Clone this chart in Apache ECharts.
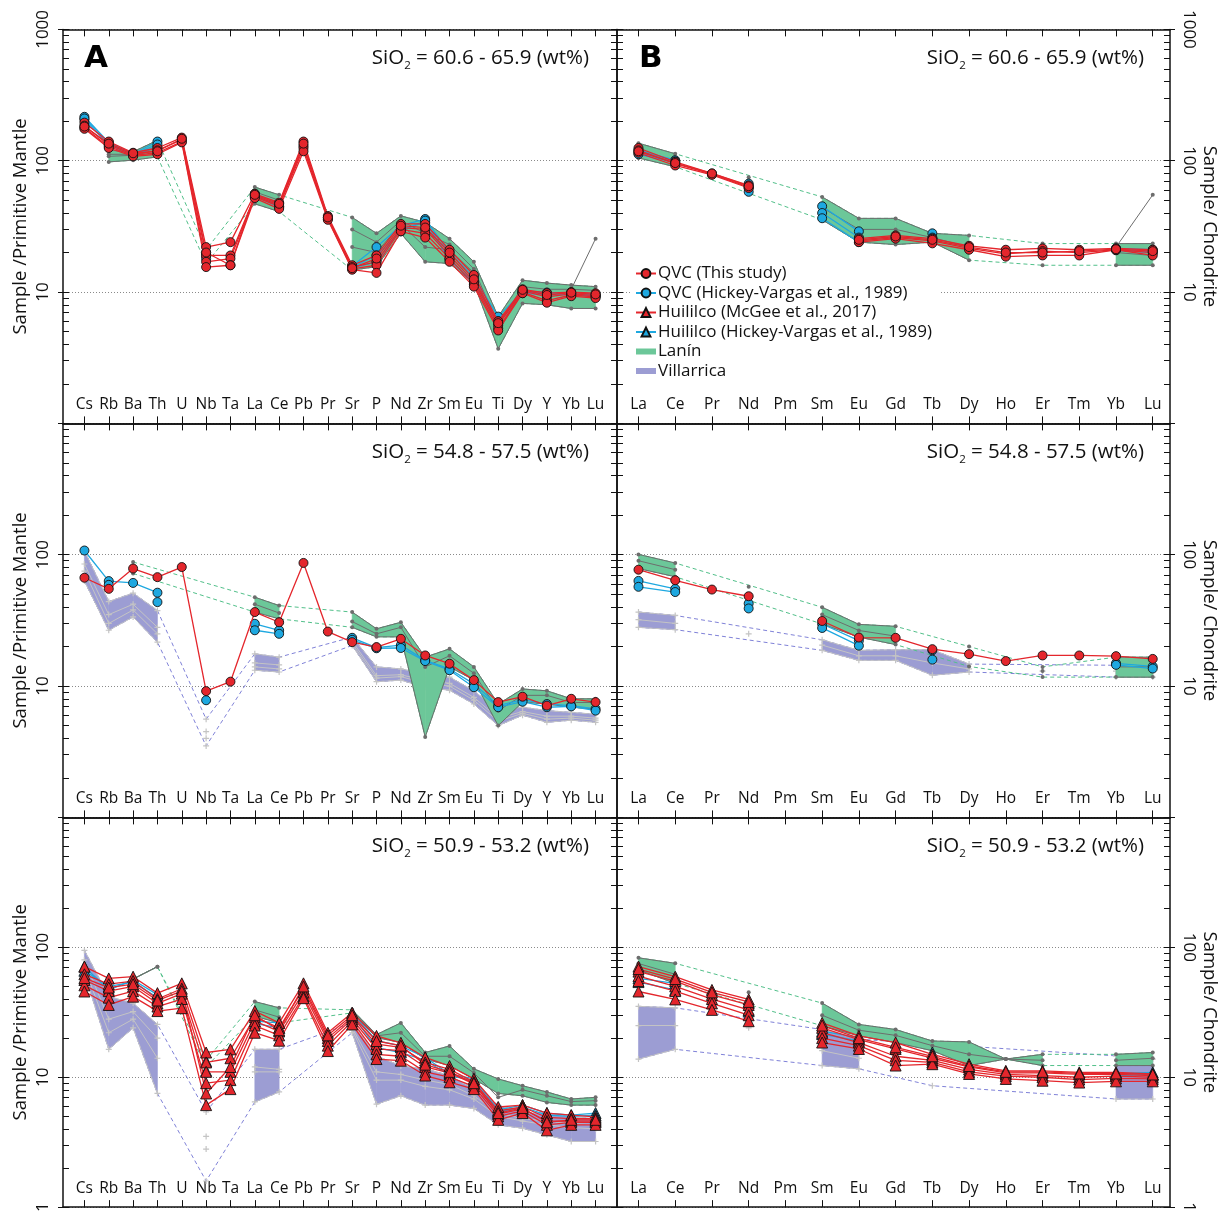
<!DOCTYPE html>
<html><head><meta charset="utf-8">
<script src="https://cdn.jsdelivr.net/npm/echarts@6/dist/echarts.min.js"></script>
<style>html,body{margin:0;padding:0;background:#fff}#c{width:1226px;height:1215px}</style>
</head><body><div id="c"></div>
<script>
const n = null;
const PM_ELEMENTS = ['Cs','Rb','Ba','Th','U','Nb','Ta','La','Ce','Pb','Pr','Sr','P','Nd','Zr','Sm','Eu','Ti','Dy','Y','Yb','Lu'];
const REE_ELEMENTS = ['La','Ce','Pr','Nd','Pm','Sm','Eu','Gd','Tb','Dy','Ho','Er','Tm','Yb','Lu'];
const SIO2_RANGES = ['60.6 - 65.9','54.8 - 57.5','50.9 - 53.2'];
const Y_LABELS = [[10,100,1000],[10,100],[1,10,100]];
const Y_MAJOR = [1,10,100,1000];
const Y_MINOR = [2,3,4,5,6,7,8,9,20,30,40,50,60,70,80,90,200,300,400,500,600,700,800,900];

// ---------- Top-left (primitive mantle, SiO2 60.6-65.9) ----------
const TL_QVC = [
  [195,140,115,125,150,22,24,56,48,140,38,16,19,33,33,21,13.5,6.0,10.5,9.8,10,9.8],
  [185,132,112,120,145,19,19,54,46,130,37,15.5,17,31,30,19,12,5.6,10.2,9.2,9.7,9.4],
  [178,128,110,115,140,17,18,53,45,125,36,15,16,30,28,18,11.5,5.3,10,8.6,9.5,9.2],
  [175,125,108,112,138,15.5,16,52,43,118,35.5,14.8,14,29,26,17,11,5.1,9.8,8.3,9.3,9.0],
  [182,135,114,118,147,20,16,55,47,135,37,15.2,18,32,31,20,12.5,5.8,10.4,9.5,9.9,9.6]
];
const TL_QVC_HV = [
  [216,138,113,140,n,19,n,56,47,n,n,15.8,22,32,36,20,13,6.5,10,9.9,9.9,9.6],
  [205,132,110,128,n,20,n,54,45,n,n,15.2,17,30,34,18,11.5,5.8,9.8,9.6,9.7,9.3],
  [210,135,112,133,n,18,n,55,44,n,n,15.5,19,29,35,17.5,12,6,9.9,9.5,9.6,9.4]
];
const TL_LAN_MIN = [n,98,101,107,n,16.5,n,47,41,n,n,14.7,15.6,28,17,16.5,11.7,3.7,8.2,8,7.5,7.5];
const TL_LAN_MAX = [n,120,117,143,n,21,n,63,55,n,n,37,28,38,34,25.5,17,6.5,12.3,11.7,11.3,11];
const TL_LAN_LINES = [
  [n,108,110,120,n,18.5,n,55,48,n,n,22,20,33,22,21,14,5,10.2,10,9.5,9.5],
  [n,112,112,125,n,n,n,58,50,n,n,30,24,35,28,23,15,5.6,11,10.5,10.5,10.3],
  [n,n,n,n,n,n,n,n,n,n,n,n,n,n,n,n,n,n,n,n,10.5,25.5]
];

// ---------- Top-right (chondrite, SiO2 60.6-65.9) ----------
const TR_QVC = [
  [125,98,80,65,n,n,25.5,27,25.5,22.5,21,21.5,21,21.5,21],
  [120,95,79,63,n,n,24.5,26,24.5,21.5,19.5,20.5,20,21,20],
  [115,92,78,62,n,n,24,25.5,23.5,21,18.6,19,19,21,19],
  [118,96,80,64,n,n,25,26.5,25,22,20,20,20.5,21.2,20.5]
];
const TR_QVC_HV = [
  [120,101,n,67,n,45,29,n,28,n,n,n,n,21.5,21],
  [115,99,n,62,n,40,26,n,26,n,n,n,n,21,20.5],
  [112,97,n,58,n,36.5,24,n,25.5,n,n,n,n,20.8,20]
];
const TR_LAN_MIN = [105,90,n,n,n,35.5,24,23,24,17.5,n,16,n,16,16];
const TR_LAN_MAX = [136,113,n,n,n,53,36.4,36.4,28,27,n,23.4,n,23.4,23.4];
const TR_LAN_LINES = [
  [120,100,n,75,n,44,30,30,26,22,n,20,n,20,19],
  [n,n,n,n,n,n,n,n,n,n,n,n,n,22,55]
];

// ---------- Middle-left (primitive mantle, SiO2 54.8-57.5) ----------
const ML_QVC = [
  [66.8,55,78.5,67.5,80.6,9.15,10.8,36.6,30.6,86.6,26,21.6,19.8,22.9,17.1,14.8,11.1,7.55,8.3,7.1,8,7.55]
];
const ML_QVC_HV = [
  [107.7,63,61,51.4,n,7.8,n,29.8,26.6,n,n,23.3,19.6,20.5,15.7,13.5,10.4,7.1,7.9,7.3,7.1,6.7],
  [n,59,n,43.6,n,n,n,26.6,25,n,n,22.5,19.4,19.5,15.5,13.2,9.8,6.9,7.6,6.9,7.0,6.5]
];
const ML_LAN_MIN = [n,n,72,n,n,n,n,36.6,32.5,n,n,28,23.7,23.7,4.1,14,11.1,5,7.55,7.3,6.9,6.7];
const ML_LAN_MAX = [n,n,88,n,n,n,n,47.5,41,n,n,36.6,27.3,30.6,16.6,19.2,14,7.3,9.5,9.2,8,8];
const ML_LAN_LINES = [
  [n,n,80,n,n,n,n,42,36,n,n,31,25,28,14,17,12.5,6.5,8.5,8.5,7.5,7.5]
];
const ML_VIL_MIN = [63,26.6,33.6,21.6,n,3.5,n,13.2,12.8,n,n,20.4,10.8,11.1,9.8,9.3,7.3,5,6,5.3,5.5,5.3];
const ML_VIL_MAX = [107,44,51,37.6,n,5.6,n,17.6,16.6,n,n,23.6,14,13.5,12.4,11.7,9.2,6.5,6.9,6.5,6.3,6.1];
const ML_VIL_LINES = [
  [85,35,42,28,n,4.5,n,15,14.5,n,n,22,12,12.2,11,10.5,8.2,5.7,6.4,5.9,5.9,5.7],
  [75,30,38,25,n,4,n,14,13.5,n,n,21,11.5,11.8,10.5,10,7.8,5.4,6.2,5.6,5.7,5.5]
];

// ---------- Middle-right (chondrite, SiO2 54.8-57.5) ----------
const MR_QVC = [
  [76.9,63.9,54.3,48.3,n,31.3,23.4,23.3,19.1,17.5,15.5,17.1,17.1,16.9,16.1]
];
const MR_QVC_HV = [
  [63.2,55,n,42.5,n,29.7,22.2,n,18.7,n,n,n,n,14.9,14.1],
  [57,52,n,39,n,27.7,20.3,n,15.9,n,n,n,n,14.5,13.6]
];
const MR_LAN_MIN = [78.5,68,n,n,n,29.7,23.6,20.7,n,14.1,n,11.7,n,11.7,11.7];
const MR_LAN_MAX = [100.6,86.5,n,n,n,39.8,29.5,28.5,n,20,n,14,n,16.6,16.6];
const MR_LAN_LINES = [
  [90,77,n,57,n,35,26.5,24,n,17,n,13,n,14,14]
];
const MR_VIL_MIN = [28,26.9,n,n,n,18.7,15.7,15.7,12.1,12.8,n,n,n,11.7,11.7];
const MR_VIL_MAX = [36.6,34.5,n,n,n,22.5,18.7,18.9,18.9,14.7,n,n,n,14.4,14.4];
const MR_VIL_LINES = [
  [32,30,n,25,n,20.5,17,17,15,13.5,n,13,n,13,13]
];

// ---------- Bottom-left (primitive mantle, SiO2 50.9-53.2) ----------
const BL_HUI = [
  [71,57.6,59.4,44.4,52.8,15.5,16.4,32.3,26.2,52.8,22,31.3,20.8,18.4,14.2,12.2,9.7,5.9,6.1,5.3,5.1,4.95],
  [62,52,55,40,48,13,14,29,24,48,20,29,18,17,13,11.5,9.2,5.5,5.9,4.9,4.8,4.8],
  [56,46,50,37,44,11,11,27,22.5,45,19,28,16.5,16,12,10.8,8.9,5.2,5.7,4.6,4.6,4.6],
  [51,41,46,35,40,9,9.5,25,21,42,17.5,27,15,14.5,11,10,8.5,5,5.5,4.3,4.5,4.5],
  [45.7,36,41.7,32.3,34,6.1,8.1,22,19.1,40.6,15.9,25.5,13.8,13.4,10.3,9.15,8.1,4.7,5.3,3.9,4.3,4.3],
  [58,49,52,39,46,7.5,12,30,23,50,21,30,19,17.5,12.5,11,9,5.3,5.8,4.5,4.7,4.7]
];
const BL_HUI_HV = [
  [71,47,56,43.2,n,13.3,n,27,26.2,n,n,31.3,19.1,17.4,14.2,10.6,9.7,5.6,6.1,5.3,5.1,5.3],
  [66,50,54,41,n,11.2,n,26,24,n,n,30,16.9,15.5,13.5,10.3,9.4,5.4,5.9,5.1,5.0,5.1]
];
const BL_LAN_MIN = [n,n,57,71,n,12,n,29.5,26.2,n,n,31.3,20.2,18.5,13.8,12.3,9.7,7.5,7.2,6.4,6.1,6.1];
const BL_LAN_MAX = [n,n,57,71,n,13.5,n,38.2,34.2,n,n,33,21.3,26.2,15.5,17.4,11.6,9.7,8.6,7.7,6.8,7];
const BL_LAN_LINES = [
  [n,n,n,n,n,n,n,33,29,n,n,32,20.8,22,14.5,14.5,10.8,7,8,7.2,6.5,6.6]
];
const BL_VIL_MIN = [63,16.4,24,7.5,n,1.59,n,6.45,7.7,n,n,22,6.2,7.2,6.1,6.1,5.75,4.3,4.05,3.6,3.2,3.2];
const BL_VIL_MAX = [94.7,41.7,37.2,25.5,n,5.4,n,16.4,16.4,n,n,26.2,14.6,12.2,11.6,10.3,8.1,6.1,5.3,5.3,4.95,4.8];
const BL_VIL_LINES = [
  [80,28,32,20,n,3.5,n,12,11.5,n,n,24,11,10.5,9.5,8.8,7.2,5.3,4.8,4.6,4.4,4.3],
  [70,22,28,14,n,2.8,n,11,11,n,n,23,9.5,9.5,8.5,8,6.8,5,4.6,4.3,4.1,4]
];

// ---------- Bottom-right (chondrite, SiO2 50.9-53.2) ----------
const BR_HUI = [
  [71,59.4,47,39.7,n,26.2,20.8,18.5,15,12.6,11.2,11.2,10.9,10.9,10.6],
  [65,55,43,36,n,24,19.5,16.5,14,12,10.8,10.8,10.5,10.5,10.3],
  [60,50,40,33,n,22,18.5,14.5,13.5,11.5,10.5,10.3,10,10.2,10],
  [55,46,37,30,n,20,17.5,13.5,13,11,10.2,10,9.6,9.8,9.7],
  [45.7,39.7,33,27,n,18.5,16.5,12.3,12.6,10.6,9.7,9.4,9.1,9.3,9.3],
  [68,57,45,38,n,25,20,17,14.5,12.2,11,11,10.7,10.7,10.5]
];
const BR_HUI_HV = [
  [57.6,52.8,n,37.2,n,22.6,20.2,n,15.5,n,n,n,n,10.6,10.9],
  [54,47,n,32.2,n,21.5,19,n,14.8,n,n,n,n,10.3,10.5]
];
const BR_LAN_MIN = [67,52.8,n,n,n,24.9,20.8,18.5,16,12.3,13.8,12.3,n,12.3,12.3];
const BR_LAN_MAX = [83,75.3,n,n,n,37.2,25.5,23.3,19,18.7,13.8,15,n,15,15.5];
const BR_LAN_LINES = [
  [75,62,n,45,n,30,23,21,17.5,15,13.8,13.5,n,13.5,14]
];
const BR_VIL_MIN = [13.8,16.4,n,n,n,12.3,11.6,n,8.6,n,n,n,n,6.8,6.8];
const BR_VIL_MAX = [35.1,34.2,n,n,n,23.3,19.6,n,n,n,n,n,n,14.6,13.8];
const BR_VIL_LINES = [
  [25,25,n,24,n,16,14,n,n,n,n,n,n,n,n]
];

const PANELS = [
  {row:0,col:0,els:PM_ELEMENTS,qvc:TL_QVC,qvcHV:TL_QVC_HV,hui:[],huiHV:[],lanMin:TL_LAN_MIN,lanMax:TL_LAN_MAX,lanLines:TL_LAN_LINES,vilMin:null,vilMax:null,vilLines:[]},
  {row:0,col:1,els:REE_ELEMENTS,qvc:TR_QVC,qvcHV:TR_QVC_HV,hui:[],huiHV:[],lanMin:TR_LAN_MIN,lanMax:TR_LAN_MAX,lanLines:TR_LAN_LINES,vilMin:null,vilMax:null,vilLines:[]},
  {row:1,col:0,els:PM_ELEMENTS,qvc:ML_QVC,qvcHV:ML_QVC_HV,hui:[],huiHV:[],lanMin:ML_LAN_MIN,lanMax:ML_LAN_MAX,lanLines:ML_LAN_LINES,vilMin:ML_VIL_MIN,vilMax:ML_VIL_MAX,vilLines:ML_VIL_LINES},
  {row:1,col:1,els:REE_ELEMENTS,qvc:MR_QVC,qvcHV:MR_QVC_HV,hui:[],huiHV:[],lanMin:MR_LAN_MIN,lanMax:MR_LAN_MAX,lanLines:MR_LAN_LINES,vilMin:MR_VIL_MIN,vilMax:MR_VIL_MAX,vilLines:MR_VIL_LINES},
  {row:2,col:0,els:PM_ELEMENTS,qvc:[],qvcHV:[],hui:BL_HUI,huiHV:BL_HUI_HV,lanMin:BL_LAN_MIN,lanMax:BL_LAN_MAX,lanLines:BL_LAN_LINES,vilMin:BL_VIL_MIN,vilMax:BL_VIL_MAX,vilLines:BL_VIL_LINES},
  {row:2,col:1,els:REE_ELEMENTS,qvc:[],qvcHV:[],hui:BR_HUI,huiHV:BR_HUI_HV,lanMin:BR_LAN_MIN,lanMax:BR_LAN_MAX,lanLines:BR_LAN_LINES,vilMin:BR_VIL_MIN,vilMax:BR_VIL_MAX,vilLines:BR_VIL_LINES}
];

const NAMES = {
  qvc:'QVC (This study)', qvcHV:'QVC (Hickey-Vargas et al., 1989)',
  hui:'Huililco (McGee et al., 2017)', huiHV:'Huililco (Hickey-Vargas et al., 1989)',
  lan:'Lanín', vil:'Villarrica'
};
const COL = {red:'#e4262c', blue:'#1ea8e0', green:'#6cc799', lanLine:'#6d6d6d', lanDash:'#52c08a',
  lav:'#9c9dd3', vilLine:'#c4c4c4', vilDash:'#8082d8', ink:'#111'};
const FONT = 'Open Sans';
const PLUS = 'path://M4,0h2v4h4v2h-4v4h-2v-4h-4v-2h4z';

// layout
const COL_LEFT = [63, 617], COL_WIDTH = [554, 553];
const ROW_TOP = [29.4, 423.4, 817.4], ROW_H = 394;
const X_RANGE = [[-0.88, 21.88], [-0.585, 14.47]];

const grids = [], xAxes = [], yAxes = [], series = [], titles = [];
function xy(arr){ return arr.map((v,i)=>[i, v]); }

PANELS.forEach((p, gi) => {
  const {row, col, els} = p;
  grids.push({left: COL_LEFT[col], top: ROW_TOP[row], width: COL_WIDTH[col], height: ROW_H});
  const idx = els.map((_, i) => i);
  const base = {gridIndex: gi, type:'value', min: X_RANGE[col][0], max: X_RANGE[col][1],
    splitLine:{show:false},
    axisLine:{show:true, onZero:false, lineStyle:{color:COL.ink, width:1.5}},
    axisTick:{show:true, inside:true, length:7, customValues: idx, lineStyle:{color:COL.ink, width:1}}};
  xAxes.push(Object.assign({}, base, {position:'bottom',
    axisLabel:{show:true, inside:true, margin:11, customValues: idx, formatter: v => els[Math.round(v)],
      fontSize:15.5, fontFamily:FONT, color:COL.ink}}));
  xAxes.push(Object.assign({}, base, {position:'top', axisLabel:{show:false}}));
  const ybase = {gridIndex: gi, type:'log', logBase:10, min:1, max:1000, splitLine:{show:false}};
  ['left','right'].forEach(pos => yAxes.push(Object.assign({}, ybase, {position: pos,
    axisLine:{show:true, onZero:false, lineStyle:{color:COL.ink, width:1.5}},
    axisTick:{show:true, inside:true, length:6, customValues: Y_MINOR.concat(Y_MAJOR), lineStyle:{color:COL.ink, width:1}},
    axisLabel:{show:false}})));
  yAxes.push(Object.assign({}, ybase, {position: col ? 'right' : 'left',
    axisLine:{show:false, onZero:false},
    axisTick:{show:true, inside:false, length:5, customValues: Y_MAJOR, lineStyle:{color:COL.ink, width:1}},
    axisLabel:{show:true, customValues: Y_LABELS[row], rotate: col ? -90 : 90, margin: col ? 10 : 11,
      formatter: v => String(Math.round(v)), fontSize:17, fontFamily:FONT, color:COL.ink},
    splitLine:{show:true, lineStyle:{color:'#8a8a8a', type:[1,2], width:1}},
    name: col ? 'Sample/ Chondrite' : 'Sample /Primitive Mantle', nameLocation:'middle',
    nameRotate: col ? -90 : 90, nameGap: col ? 30 : 33,
    nameTextStyle:{fontSize:18.5, fontFamily:FONT, color:COL.ink}}));

  const xi = 2*gi, yi = 3*gi;
  const band = (lo, hi, color, z, name) => {
    const data = [];
    for (let i = 0; i < lo.length - 1; i++) {
      if (lo[i] != null && hi[i] != null && lo[i+1] != null && hi[i+1] != null) data.push([i, lo[i], hi[i], lo[i+1], hi[i+1]]);
    }
    series.push({type:'custom', name, xAxisIndex:xi, yAxisIndex:yi, z, silent:true,
      dimensions:['x','lo','hi','lo2','hi2'], encode:{x:0, y:[1,2]}, data,
      itemStyle:{color},
      renderItem(params, api){
        const x = api.value(0);
        const pts = [api.coord([x, api.value(1)]), api.coord([x, api.value(2)]),
                     api.coord([x+1, api.value(4)]), api.coord([x+1, api.value(3)])];
        return {type:'polygon', shape:{points:pts}, style:{fill:color, stroke:color, lineWidth:0.6}};
      }});
  };
  const dashed = (arr, color, z) => series.push({type:'line', xAxisIndex:xi, yAxisIndex:yi, z, silent:true,
    data: xy(arr), connectNulls:true, symbol:'none', lineStyle:{color, width:1, type:[4,3]}});
  const lines = (list, name, color, symbol, size, width, border, z) => list.forEach(arr => series.push({
    type:'line', name, xAxisIndex:xi, yAxisIndex:yi, z, silent:true, data: xy(arr), connectNulls:false,
    symbol, symbolSize:size, showSymbol:true, showAllSymbol:true,
    lineStyle:{color, width}, itemStyle:{color, borderColor: border || color, borderWidth: border ? 0.9 : 0}}));

  if (p.vilMin) {
    band(p.vilMin, p.vilMax, COL.lav, 2, NAMES.vil);
    dashed(p.vilMin, COL.vilDash, 3); dashed(p.vilMax, COL.vilDash, 3);
    lines([p.vilMin, p.vilMax].concat(p.vilLines), 'Villarrica samples', COL.vilLine, PLUS, 6, 1, null, 4);
  }
  band(p.lanMin, p.lanMax, COL.green, 5, NAMES.lan);
  dashed(p.lanMin, COL.lanDash, 6); dashed(p.lanMax, COL.lanDash, 6);
  lines([p.lanMin, p.lanMax].concat(p.lanLines), 'Lanín samples', COL.lanLine, 'circle', 4, 1, null, 7);
  lines(p.huiHV, NAMES.huiHV, COL.blue, 'triangle', 11, 1.3, '#111', 8);
  lines(p.hui, NAMES.hui, COL.red, 'triangle', 11, 1.3, '#111', 9);
  lines(p.qvcHV, NAMES.qvcHV, COL.blue, 'circle', 9, 1.3, '#111', 10);
  lines(p.qvc, NAMES.qvc, COL.red, 'circle', 9, 1.3, '#111', 11);

  titles.push({text:'{a|SiO}{s|2}{a| = ' + SIO2_RANGES[row] + ' (wt%)}',
    right: col ? 77 : 632, top: ROW_TOP[row] + 11,
    textStyle:{fontWeight:'normal', rich:{a:{fontSize:20.5, fontWeight:'normal', fontFamily:FONT, color:COL.ink},
                     s:{fontSize:11.5, fontWeight:'normal', fontFamily:FONT, color:COL.ink, padding:[14,0,0,0]}}}});
});
titles.push({text:'A', left:79, top:38, textStyle:{fontSize:31, fontWeight:900, fontFamily:'DejaVu Sans', color:'#000'}});
titles.push({text:'B', left:634, top:38, textStyle:{fontSize:31, fontWeight:900, fontFamily:'DejaVu Sans', color:'#000'}});

const BAR = 'path://M0,0h20v6h-20z';
const option = {
  animation:false,
  backgroundColor:'#fff',
  title: titles,
  grid: grids, xAxis: xAxes, yAxis: yAxes, series,
  legend: {show:true, orient:'vertical', left:631, top:264, z:20, selectedMode:false,
    itemWidth:20, itemHeight:11, itemGap:2.5, backgroundColor:'#fff', padding:[1,8,1,4],
    textStyle:{fontSize:17, fontFamily:FONT, color:COL.ink, padding:[0,0,0,-3]},
    data:[NAMES.qvc, NAMES.qvcHV, NAMES.hui, NAMES.huiHV,
      {name:NAMES.lan, icon:BAR, itemStyle:{color:COL.green}},
      {name:NAMES.vil, icon:BAR, itemStyle:{color:COL.lav}}]}
};
const chart = echarts.init(document.getElementById('c'), null, {renderer:'canvas'});
chart.setOption(option);
</script></body></html>
